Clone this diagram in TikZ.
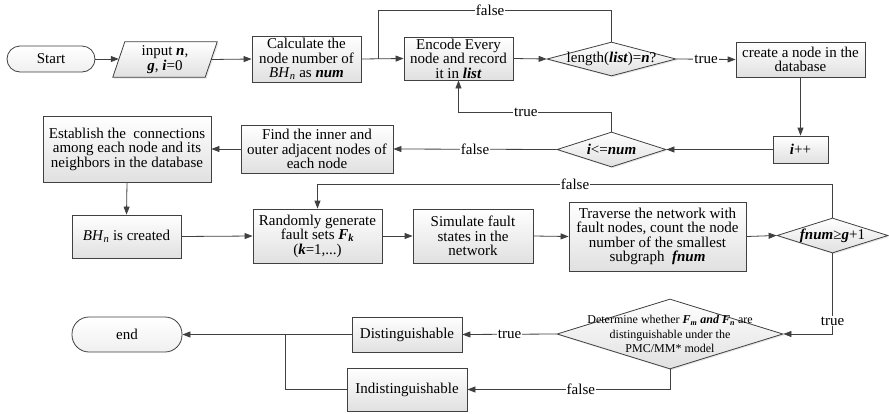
\documentclass[tikz,border=0pt]{standalone}
\usepackage{fontspec}
\setmainfont{Liberation Serif}
\usetikzlibrary{arrows.meta,shapes.geometric,shadows,calc}
\newcommand{\bi}[1]{\textbf{\textit{#1}}}
\begin{document}
\begin{tikzpicture}[x=1pt,y=-1pt,
  line/.style={draw=black!75, line width=0.8pt},
  arr/.style={line, -{Triangle[length=8pt,width=6pt]}},
  shade/.style={draw=black!75, line width=0.8pt, top color=white, bottom color=black!12,
     drop shadow={shadow xshift=1.3pt,shadow yshift=-1.3pt,opacity=0.2}},
  box/.style={shade, rectangle, inner sep=1pt, align=center,
     font=\rmfamily\fontsize{15}{14.5}\selectfont},
  term/.style={draw=black!75, line width=0.8pt, top color=white, bottom color=black!6,
     rectangle, inner sep=1pt, align=center, font=\rmfamily\fontsize{15}{14.5}\selectfont},
  dia/.style={shade, diamond, inner sep=0pt},
  txt/.style={inner sep=0pt, align=center, font=\rmfamily\fontsize{15}{14.5}\selectfont},
  lbl/.style={fill=white, inner sep=1pt, font=\rmfamily\fontsize{15}{15}\selectfont}
]
\path[use as bounding box] (0,0) rectangle (889,413);

% terminals
\node[term, minimum width=88pt, minimum height=26pt, rounded corners=13pt] (start) at (51,59) {Start};
\node[term, minimum width=110pt, minimum height=35pt, rounded corners=17pt] (endn) at (127,334.5) {end};

% input parallelogram
\node[txt, minimum width=92pt, minimum height=35pt] (inp) at (165,59.5) {};
\path[shade] ($(inp.north west)+(6,0)$) -- ($(inp.north east)+(6,0)$) -- ($(inp.south east)+(-6,0)$) -- ($(inp.south west)+(-6,0)$) -- cycle;
\node[txt] (inpt) at (inp) {input \bi{n},\\ \bi{g}, \bi{i}=0};

% boxes
\node[box, minimum width=109pt, minimum height=46pt] (calc) at (306.5,59) {Calculate the\\node number of\\\textit{BH}\textsubscript{\textit{n}} as \bi{num}};
\node[box, minimum width=109pt, minimum height=43pt] (enc) at (458.5,58.5) {Encode Every\\node and record\\it in \bi{list}};
\node[box, minimum width=129pt, minimum height=35pt] (create) at (800.5,59.5) {create a node in the\\database};
\node[box, minimum width=55pt, minimum height=27pt] (ipp) at (800.5,149.5) {\bi{i}++};
\node[box, minimum width=152pt, minimum height=48pt] (find) at (317,149) {Find the inner and\\outer adjacent nodes of\\each node};
\node[box, minimum width=168pt, minimum height=66pt] (est) at (127,149) {Establish the\ \ connections\\among each node and its\\neighbors in the database};
\node[box, minimum width=109pt, minimum height=43pt] (bh) at (126.5,236.5) {\textit{BH}\textsubscript{\textit{n}} is created};
\node[box, minimum width=129pt, minimum height=54pt] (rand) at (317.5,236) {Randomly generate\\fault sets \bi{F}\textsubscript{\bi{k}}\\(\bi{k}=1,...)};
\node[box, minimum width=120pt, minimum height=54pt] (sim) at (473,236) {Simulate fault\\states in the\\network};
\node[box, minimum width=177pt, minimum height=69pt] (trav) at (657.5,236.5) {Traverse the network with\\fault nodes, count the node\\number of the smallest\\subgraph\ \ \bi{fnum}};
\node[box, minimum width=110pt, minimum height=35pt] (dist) at (407,334.5) {Distinguishable};
\node[box, minimum width=120pt, minimum height=43pt] (indist) at (407,389.5) {Indistinguishable};

% diamonds
\node[dia, minimum width=129pt, minimum height=34pt] (lenD) at (611.5,59) {};
\node[txt] (lenDt) at (lenD) {length(\bi{list})=\bi{n}?};
\node[dia, minimum width=109pt, minimum height=35pt] (ileD) at (611.5,149.5) {};
\node[txt] (ileDt) at (ileD) {\bi{i}<=\bi{num}};
\node[dia, minimum width=111pt, minimum height=35pt] (fD) at (832.5,235.5) {};
\node[txt] (fDt) at (fD) {\bi{fnum}≥\bi{g}+1};
\node[dia, minimum width=226pt, minimum height=70pt] (det) at (670,334) {};
\node[txt, font=\rmfamily\fontsize{12}{14.5}\selectfont] (dett) at (det) {Determine whether \bi{F\textsubscript{m} and F\textsubscript{n}} are\\distinguishable under the\\PMC/MM* model};

% junction coordinates
\coordinate (j1) at (378,10);
\coordinate (j2) at (285,334.5);

% connectors
\draw[arr] (start.east) -- (start.east -| inp.west);
\draw[arr] (inp.east) -- (calc.west);
\draw[arr] (calc.east) -- (enc.west);
\draw[line] (lenD.north) |- node[lbl,pos=0.76]{false} (j1) -- (j1 |- calc.east);
\draw[arr] (enc.east) -- (lenD.west);
\draw[arr] (lenD.east) -- node[lbl]{true} (create.west);
\draw[arr] (create.south) -- (ipp.north);
\draw[arr] (ipp.west) -- (ileD.east);
\draw[arr] (ileD.north) -- ++(0,-19) -| node[lbl,pos=0.28]{true} (enc.south);
\draw[arr] (ileD.west) -- node[lbl]{false} (find.east);
\draw[arr] (find.west) -- (est.east);
\draw[arr] (est.south) -- (bh.north);
\draw[arr] (bh.east) -- (rand.west);
\draw[arr] (rand.east) -- (sim.west);
\draw[arr] (sim.east) -- (trav.west);
\draw[arr] (trav.east) -- (fD.west);
\draw[arr] (fD.north) -- ++(0,-33) -| node[lbl,pos=0.25]{false} (rand.north);
\draw[arr] (fD.south) |- node[lbl,pos=0.42]{true} (det.east);
\draw[arr] (det.west) -- node[lbl]{true} (dist.east);
\draw[arr] (det.south) |- node[lbl,pos=0.72]{false} (indist.east);
\draw[arr] (dist.west) -- (endn.east);
\draw[line] (indist.west) -| (j2);
\end{tikzpicture}
\end{document}
